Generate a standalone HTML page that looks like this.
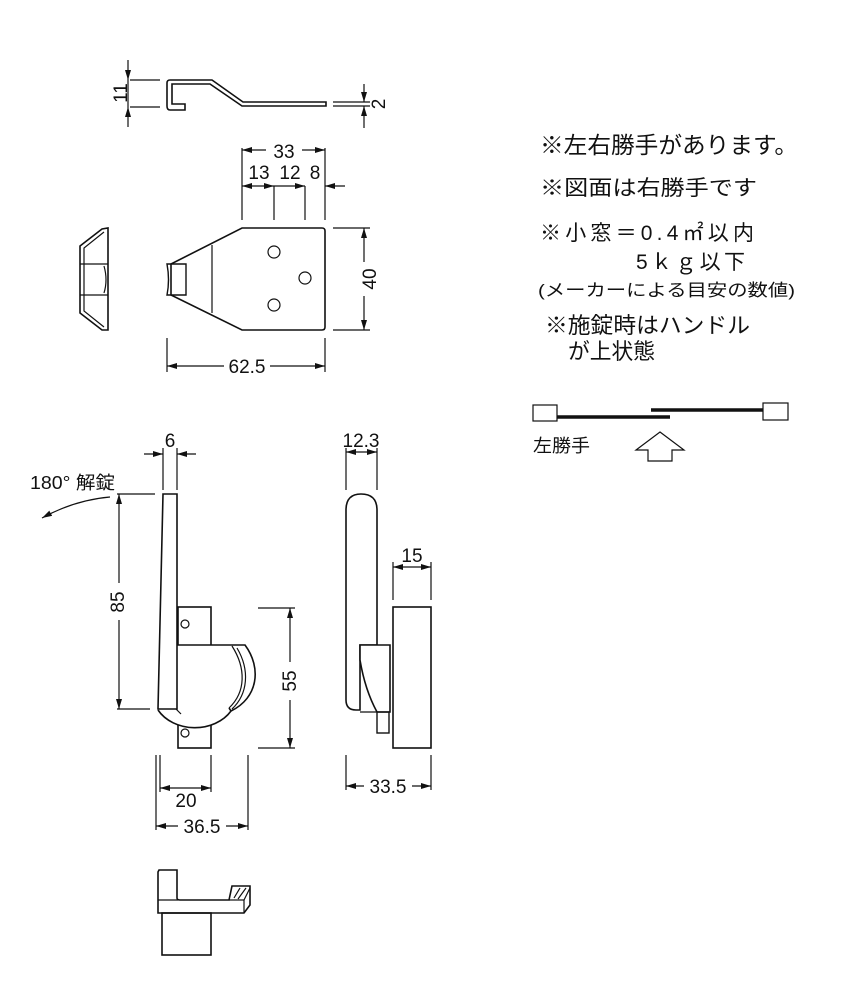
<!DOCTYPE html>
<html><head><meta charset="utf-8"><style>
html,body{margin:0;padding:0;background:#fff}
svg{display:block}
text{font-family:"Liberation Sans","Noto Sans CJK JP",sans-serif;fill:#111}
</style></head><body>
<svg width="850" height="1000" viewBox="0 0 850 1000" xmlns="http://www.w3.org/2000/svg">
<defs>
<marker id="a" markerWidth="10" markerHeight="6" refX="10" refY="3" orient="auto-start-reverse" markerUnits="userSpaceOnUse"><path d="M0,0 L10,3 L0,6z" fill="#111"/></marker>
</defs>
<g stroke="#111" fill="none" stroke-width="1.2">
<path d="M170,80 H212 L243,102 H326 V106 H242 L210,84 H172 V104 H185 V110 H170 Q167,110 167,106 V83 Q167,80 170,80z" stroke-width="1.6"/>
<line x1="128" y1="60" x2="128" y2="80" marker-end="url(#a)"/>
<line x1="128" y1="127" x2="128" y2="107" marker-end="url(#a)"/>
<line x1="128" y1="80" x2="128" y2="107"/>
<line x1="130" y1="80" x2="160" y2="80"/><line x1="130" y1="107" x2="160" y2="107"/>
<line x1="333" y1="102" x2="370" y2="102"/><line x1="333" y1="106" x2="370" y2="106"/>
<line x1="364" y1="84" x2="364" y2="102" marker-end="url(#a)"/>
<line x1="364" y1="128" x2="364" y2="106" marker-end="url(#a)"/>
<path d="M242,228 H322 Q325,228 325,231 V327 Q325,330 322,330 H242 L171,295 V264 Z" stroke-width="1.6"/>
<line x1="212" y1="245" x2="212" y2="313"/>
<path d="M167,264 H186 V295 H167 Q170,280 167,264z" stroke-width="1.4"/>
<circle cx="274" cy="252" r="6"/><circle cx="305" cy="278" r="6"/><circle cx="274" cy="305" r="6"/>
<line x1="242" y1="148" x2="242" y2="220"/><line x1="325" y1="148" x2="325" y2="220"/>
<line x1="274" y1="186" x2="274" y2="220"/><line x1="305" y1="186" x2="305" y2="220"/>
<line x1="266" y1="150" x2="242" y2="150" marker-end="url(#a)"/>
<line x1="302" y1="150" x2="325" y2="150" marker-end="url(#a)"/>
<line x1="242" y1="186" x2="274" y2="186" marker-start="url(#a)" marker-end="url(#a)"/>
<line x1="274" y1="186" x2="305" y2="186" marker-end="url(#a)"/>
<line x1="345" y1="186" x2="325" y2="186" marker-end="url(#a)"/>
<line x1="333" y1="228" x2="370" y2="228"/><line x1="333" y1="330" x2="370" y2="330"/>
<line x1="364" y1="262" x2="364" y2="228" marker-end="url(#a)"/>
<line x1="364" y1="296" x2="364" y2="330" marker-end="url(#a)"/>
<line x1="167" y1="338" x2="167" y2="372"/><line x1="325" y1="338" x2="325" y2="372"/>
<line x1="224" y1="366" x2="167" y2="366" marker-end="url(#a)"/>
<line x1="270" y1="366" x2="325" y2="366" marker-end="url(#a)"/>
<path d="M108,228 V330 L102,330 L80,313 V246 L102,229 Z" stroke-width="1.6"/>
<path d="M104,232 L84,248 V311 L104,327"/>
<line x1="80" y1="264" x2="108" y2="264"/><line x1="80" y1="295" x2="108" y2="295"/>
<path d="M104,266 Q108,280 104,293"/>
<rect x="178" y="607" width="33" height="141" stroke-width="1.6"/>
<circle cx="185" cy="624" r="4"/>
<circle cx="185" cy="733" r="4"/>
<path d="M177,645 H233 C246,670 243,696 229,708 L231,711 A42,34 0 0 1 158,710 Z" fill="#fff" stroke="none"/>
<path d="M177,645 H245 C262,668 258,698 231,711 L229,708 M231,711 A42,34 0 0 1 158,710" stroke-width="1.6"/>
<path d="M232,646 C246,668 246,692 229,708 M237,648 C250,670 248,694 232,709"/>
<path d="M163,494 H177 V709 H158 Z" fill="#fff" stroke-width="1.6"/>
<line x1="176" y1="709" x2="181" y2="714"/>
<line x1="163" y1="448" x2="163" y2="490"/><line x1="177" y1="448" x2="177" y2="490"/>
<line x1="144" y1="454" x2="163" y2="454" marker-end="url(#a)"/>
<line x1="196" y1="454" x2="177" y2="454" marker-end="url(#a)"/>
<line x1="117" y1="494" x2="155" y2="494"/><line x1="117" y1="709" x2="150" y2="709"/>
<line x1="119" y1="583" x2="119" y2="494" marker-end="url(#a)"/>
<line x1="119" y1="620" x2="119" y2="709" marker-end="url(#a)"/>
<line x1="258" y1="608" x2="295" y2="608"/><line x1="258" y1="748" x2="295" y2="748"/>
<line x1="290" y1="662" x2="290" y2="608" marker-end="url(#a)"/>
<line x1="290" y1="700" x2="290" y2="748" marker-end="url(#a)"/>
<line x1="156" y1="755" x2="156" y2="830"/><line x1="160" y1="755" x2="160" y2="792"/>
<line x1="211" y1="755" x2="211" y2="792"/><line x1="248" y1="755" x2="248" y2="830"/>
<line x1="160" y1="788" x2="211" y2="788" marker-start="url(#a)" marker-end="url(#a)"/>
<line x1="178" y1="826" x2="156" y2="826" marker-end="url(#a)"/>
<line x1="226" y1="826" x2="248" y2="826" marker-end="url(#a)"/>
<path d="M110,497 Q75,500 42,518" marker-end="url(#a)"/>
<path d="M346,510 Q346,494 361,494 Q377,494 377,510 V645 H360 V710 H356 Q346,710 346,700 Z" stroke-width="1.6"/>
<path d="M360,645 H390 V712 H377 Q365,690 360,660 Z" fill="#fff" stroke-width="1.6"/>
<line x1="360" y1="712" x2="377" y2="712"/>
<rect x="377" y="712" width="12" height="21" stroke-width="1.4"/>
<rect x="393" y="607" width="38" height="141" stroke-width="1.6"/>
<line x1="346" y1="448" x2="346" y2="490"/><line x1="377" y1="448" x2="377" y2="490"/>
<line x1="346" y1="452" x2="377" y2="452" marker-start="url(#a)" marker-end="url(#a)"/>
<line x1="393" y1="562" x2="393" y2="600"/><line x1="431" y1="562" x2="431" y2="600"/>
<line x1="393" y1="567" x2="431" y2="567" marker-start="url(#a)" marker-end="url(#a)"/>
<line x1="346" y1="755" x2="346" y2="790"/><line x1="431" y1="755" x2="431" y2="790"/>
<line x1="364" y1="786" x2="346" y2="786" marker-end="url(#a)"/>
<line x1="412" y1="786" x2="431" y2="786" marker-end="url(#a)"/>
<path d="M159,870 H177 V898 Q177,900 180,900 H229 L232,886 H250 V905 L244,913 H158 V872 Z" stroke-width="1.6"/>
<line x1="158" y1="900" x2="178" y2="900"/>
<line x1="229" y1="900" x2="244" y2="900"/><line x1="244" y1="900" x2="250" y2="888"/><line x1="244" y1="900" x2="244" y2="913"/>
<path d="M234,898 L240,888 M238,899 L246,888"/>
<rect x="162" y="913" width="49" height="42" stroke-width="1.6"/>
<rect x="533" y="405" width="24" height="16"/>
<rect x="763" y="403" width="25" height="17"/>
<line x1="557" y1="417" x2="670" y2="417" stroke-width="3.5"/>
<line x1="651" y1="410" x2="763" y2="410" stroke-width="3.5"/>
<path d="M660,432 L684,450 H672 V461 H648 V450 H636 Z"/>
</g>
<g font-size="19" text-anchor="middle">
<text transform="translate(122,93) rotate(-90)" dominant-baseline="middle">11</text>
<text transform="translate(380,104) rotate(-90)" dominant-baseline="middle">2</text>
<text x="284" y="158">33</text>
<text x="259" y="179">13</text><text x="290" y="179">12</text><text x="315" y="179">8</text>
<text transform="translate(371,279) rotate(-90)" dominant-baseline="middle">40</text>
<text x="247" y="373">62.5</text>
<text x="170" y="447">6</text>
<text transform="translate(119,602) rotate(-90)" dominant-baseline="middle">85</text>
<text transform="translate(291,681) rotate(-90)" dominant-baseline="middle">55</text>
<text x="186" y="807">20</text>
<text x="202" y="833">36.5</text>
<text x="361" y="447">12.3</text>
<text x="412" y="562">15</text>
<text x="388" y="793">33.5</text>
</g>
<text x="30" y="489" font-size="18" textLength="85" lengthAdjust="spacingAndGlyphs">180° 解錠</text>
<text x="540" y="153" font-size="23" textLength="258" lengthAdjust="spacingAndGlyphs">※左右勝手があります。</text>
<text x="540" y="195" font-size="21" textLength="217" lengthAdjust="spacingAndGlyphs">※図面は右勝手です</text>
<text x="540" y="240" font-size="21" textLength="214" lengthAdjust="spacing">※小窓＝0.4㎡以内</text>
<text x="636" y="269" font-size="21" textLength="109" lengthAdjust="spacing">5ｋｇ以下</text>
<text x="538" y="296" font-size="17" textLength="257" lengthAdjust="spacingAndGlyphs">(メーカーによる目安の数値)</text>
<text x="545" y="333" font-size="22" textLength="205" lengthAdjust="spacingAndGlyphs">※施錠時はハンドル</text>
<text x="568" y="359" font-size="22" textLength="87" lengthAdjust="spacingAndGlyphs">が上状態</text>
<text x="533" y="452" font-size="18" textLength="57" lengthAdjust="spacingAndGlyphs">左勝手</text>
</svg>
</body></html>
